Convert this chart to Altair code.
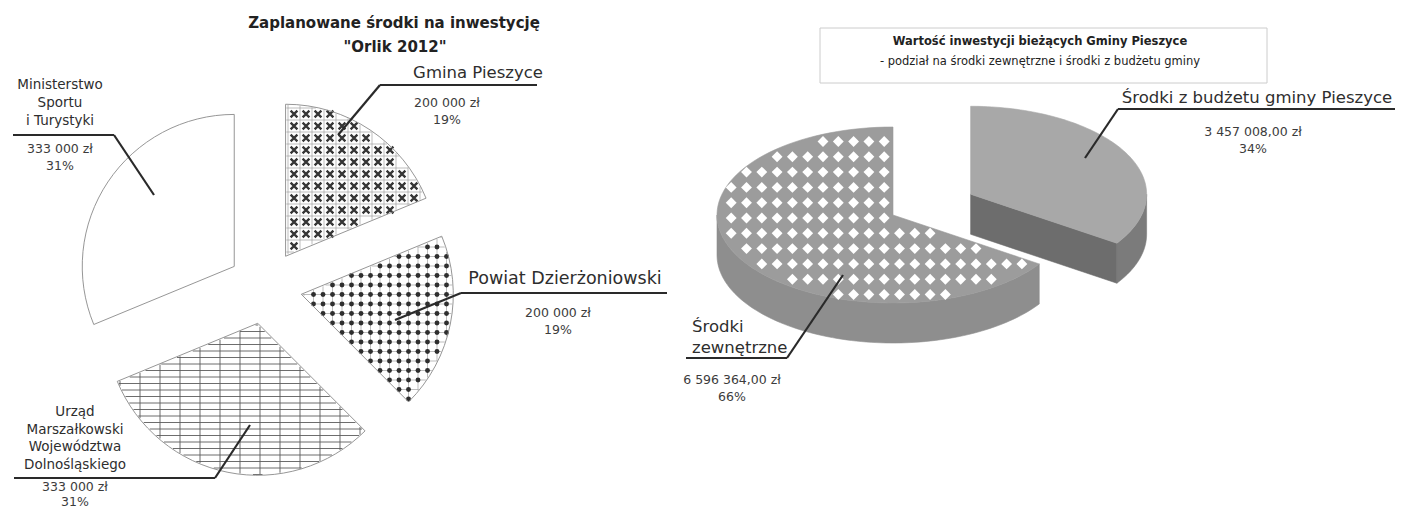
import math
import numpy as np
import pandas as pd
import altair as alt

# ---------------- data ----------------
orlik_names = ["Gmina Pieszyce", "Powiat Dzierżoniowski",
               "Urząd\nMarszałkowski\nWojewództwa\nDolnośląskiego",
               "Ministerstwo\nSportu\ni Turystyki"]
orlik_values = [200000, 200000, 333000, 333000]
orlik_value_labels = ["200 000 zł", "200 000 zł", "333 000 zł", "333 000 zł"]
orlik_pct_labels = ["19%", "19%", "31%", "31%"]
orlik_title = ["Zaplanowane środki na inwestycję", "\"Orlik 2012\""]

inv_names = ["Środki z budżetu gminy Pieszyce", "Środki\nzewnętrzne"]
inv_values = [3457008.00, 6596364.00]
inv_value_labels = ["3 457 008,00 zł", "6 596 364,00 zł"]
inv_pct_labels = ["34%", "66%"]
inv_title = ["Wartość inwestycji bieżących Gminy Pieszyce",
             "- podział na środki zewnętrzne i środki z budżetu gminy"]

# ---------------- layout (image pixel space) ----------------
TAU = 2 * math.pi
X0, X1, Y0, Y1 = 8, 1403, 8, 508
XS = alt.Scale(domain=[X0, X1], nice=False, zero=False)
YS = alt.Scale(domain=[Y0, Y1], nice=False, zero=False, reverse=True)
FONT = "DejaVu Sans"

L_C, L_R, L_EXP = (265, 287), 152, 37
R_M, R_RX, R_RY, R_D, R_EXP = (893, 215), 176, 88, 40, 0.5

# label layout: name pos, name size, line height, underline (x1, x2, y), leader end, value pos, align
left_lab = [
    dict(name=(478, 73), fs=16.5, lh=18, ul=(380, 537, 85), le=(338, 135), val=(447, 103), dv=17, align="center"),
    dict(name=(565, 279), fs=17.5, lh=18, ul=(461, 667, 293), le=(395, 320), val=(558, 313), dv=17, align="center"),
    dict(name=(75, 412), fs=13.5, lh=17.7, ul=(14, 215, 478), le=(250, 425), val=(75, 487), dv=15, align="center", lead_from="right"),
    dict(name=(60, 85), fs=13.5, lh=18, ul=(13, 114, 135), le=(154, 195), val=(60, 149), dv=17, align="center", lead_from="right"),
]
for d in left_lab:
    d.setdefault("lead_from", "left")
right_lab = [
    dict(name=(1257, 98), fs=16.5, lh=21, ul=(1118, 1395, 109), le=(1085, 158), val=(1253, 132), dv=17, align="center", lead_from="left"),
    dict(name=(692, 327), fs=16.5, lh=21, ul=(686, 787, 358), le=(843, 275), val=(732, 380), dv=17, align="left", lead_from="right"),
]


def angles(values):
    tot = float(sum(values))
    out, a = [], 0.0
    for v in values:
        a1 = a + TAU * v / tot
        out.append((a, a1))
        a = a1
    return out


def inside(px, py, cx, cy, rx, ry, a0, a1, m=0.0):
    dx, dy = px - cx, py - cy
    if (dx / (rx - m)) ** 2 + (dy / (ry - m)) ** 2 > 1:
        return False
    ang = math.atan2(dx / rx, -dy / ry) % TAU
    if ang < a0 or ang > a1:
        return False
    for a in (a0, a1):
        ex, ey = rx * math.sin(a), -ry * math.cos(a)
        n = math.hypot(ex, ey)
        ex, ey = ex / n, ey / n
        proj = dx * ex + dy * ey
        d = abs(dx * ey - dy * ex) if proj > 0 else math.hypot(dx, dy)
        if d < m:
            return False
    return True


def clip_lines(sl, spacing, horizontal, m=0.7, offset=0.0):
    cx, cy, r, a0, a1 = sl
    segs = []
    if horizontal:
        start = math.floor((cy - r) / spacing) * spacing + offset
        for y in np.arange(start, cy + r, spacing):
            pts = [x for x in np.arange(cx - r, cx + r, 0.25) if inside(x, y, cx, cy, r, r, a0, a1, m)]
            if len(pts) > 1:
                segs.append((pts[0], y, pts[-1], y))
    else:
        start = math.floor((cx - r) / spacing) * spacing + offset
        for x in np.arange(start, cx + r, spacing):
            pts = [y for y in np.arange(cy - r, cy + r, 0.25) if inside(x, y, cx, cy, r, r, a0, a1, m)]
            if len(pts) > 1:
                segs.append((x, pts[0], x, pts[-1]))
    return segs


def lattice(cx, cy, rx, ry, a0, a1, sx, sy, ox, oy, m):
    pts = []
    xs0 = ox + math.floor((cx - rx - ox) / sx) * sx
    ys0 = oy + math.floor((cy - ry - oy) / sy) * sy
    for x in np.arange(xs0, cx + rx + 1, sx):
        for y in np.arange(ys0, cy + ry + 1, sy):
            if inside(x, y, cx, cy, rx, ry, a0, a1, m):
                pts.append((x, y))
    return pts


# ---------------- left pie (exploded) ----------------
arc_rows, slices = [], []
for i, (a0, a1) in enumerate(angles(orlik_values)):
    mid = (a0 + a1) / 2
    cx = L_C[0] + L_EXP * math.sin(mid)
    cy = L_C[1] - L_EXP * math.cos(mid)
    slices.append((cx, cy, L_R, a0, a1))
    arc_rows.append(dict(name=orlik_names[i], value=orlik_values[i], cx=cx, cy=cy, a0=a0, a1=a1))
arc_df = pd.DataFrame(arc_rows)

# pattern: Gmina -> grid + crosses, Powiat -> grid + dots, Urząd -> line grid
thin_segs = clip_lines(slices[0], 12, True) + clip_lines(slices[0], 12, False) \
    + clip_lines(slices[1], 9.5, True) + clip_lines(slices[1], 9.5, False)
grid_segs = clip_lines(slices[2], 6.5, True) + clip_lines(slices[2], 20, False)
g = slices[0]
cross_pts = lattice(g[0], g[1], g[2], g[2], g[3], g[4], 12, 12, 6, 6, 2.5)
p = slices[1]
dot_pts = lattice(p[0], p[1], p[2], p[2], p[3], p[4], 9.5, 9.5, 0, 0, 1.5)

thin_df = pd.DataFrame(thin_segs, columns=["x", "y", "x2", "y2"])
grid_df = pd.DataFrame(grid_segs, columns=["x", "y", "x2", "y2"])
cross_df = pd.DataFrame(cross_pts, columns=["x", "y"])
dot_df = pd.DataFrame(dot_pts, columns=["x", "y"])

# ---------------- right pie (3D, elliptical) ----------------
(g0, g1), (p0, p1) = angles(inv_values)
gm = (g0 + g1) / 2
G = (R_M[0] + R_EXP * R_RX * math.sin(gm), R_M[1] - R_EXP * R_RY * math.cos(gm))


def ept(c, a, dy=0.0):
    return (c[0] + R_RX * math.sin(a), c[1] - R_RY * math.cos(a) + dy)


def earc(c, a0, a1, dy=0.0, n=90):
    return [ept(c, a0 + (a1 - a0) * k / n, dy) for k in range(n + 1)]


polys = {
    "pat_side": earc(R_M, p0, 1.5 * math.pi) + earc(R_M, 1.5 * math.pi, p0, R_D),
    "pat_top": [R_M] + earc(R_M, p0, p1) + [R_M],
    "gray_face": [G, ept(G, g1), ept(G, g1, R_D), (G[0], G[1] + R_D), G],
    "gray_outer": earc(G, 0.5 * math.pi, g1) + earc(G, g1, 0.5 * math.pi, R_D),
    "gray_top": [G] + earc(G, g0, g1) + [G],
}
poly_rows = []
for k, pts in polys.items():
    pts = list(pts) + [pts[0]]
    for i, (x, y) in enumerate(pts):
        poly_rows.append(dict(poly=k, i=i, x=x, y=y))
poly_df = pd.DataFrame(poly_rows)
diamond_pts = lattice(R_M[0], R_M[1], R_RX, R_RY, p0, p1, 15.3, 15.3, 746.5, 141.5, 3.5)
diamond_df = pd.DataFrame(diamond_pts, columns=["x", "y"])

# ---------------- labels ----------------
text_rows, seg_rows = [], []


def add_labels(names, vlabels, plabels, lay):
    for i, d in enumerate(lay):
        for j, line in enumerate(names[i].split("\n")):
            text_rows.append(dict(t=line, x=d["name"][0], y=d["name"][1] + j * d["lh"], fs=d["fs"],
                                  al=d["align"], col="#2e2e2e"))
        text_rows.append(dict(t=vlabels[i], x=d["val"][0], y=d["val"][1], fs=12.5, al="center", col="#3c3c3c"))
        text_rows.append(dict(t=plabels[i], x=d["val"][0], y=d["val"][1] + d["dv"], fs=12.5, al="center", col="#3c3c3c"))
        x1, x2, yy = d["ul"]
        seg_rows.append(dict(x=x1, y=yy, x2=x2, y2=yy))
        sx = x1 if d["lead_from"] == "left" else x2
        seg_rows.append(dict(x=sx, y=yy, x2=d["le"][0], y2=d["le"][1]))


add_labels(orlik_names, orlik_value_labels, orlik_pct_labels, left_lab)
add_labels(inv_names, inv_value_labels, inv_pct_labels, right_lab)
text_df = pd.DataFrame(text_rows)
seg_df = pd.DataFrame(seg_rows)

title_df = pd.DataFrame([
    dict(t=orlik_title[0], x=394, y=23, fs=15, w="bold"),
    dict(t=orlik_title[1], x=395, y=47, fs=15, w="bold"),
    dict(t=inv_title[0], x=1040, y=42, fs=11.5, w="bold"),
    dict(t=inv_title[1], x=1040, y=62, fs=11.5, w="normal"),
])
box_df = pd.DataFrame([dict(x=820, x2=1267, y=28, y2=83)])


def X(f):
    return alt.X(f, type="quantitative", scale=XS, axis=None)


def Y(f):
    return alt.Y(f, type="quantitative", scale=YS, axis=None)


layers = []
# left pie fills
layers.append(alt.Chart(arc_df).mark_arc(radius=L_R, fill="white", stroke=None).encode(
    x=X("cx"), y=Y("cy"), theta=alt.Theta("a0:Q", scale=None), theta2=alt.Theta2("a1")))
layers.append(alt.Chart(thin_df).mark_rule(color="#a0a0a0", strokeWidth=0.7).encode(
    x=X("x"), y=Y("y"), x2="x2", y2="y2"))
layers.append(alt.Chart(grid_df).mark_rule(color="#5c5c5c", strokeWidth=0.9).encode(
    x=X("x"), y=Y("y"), x2="x2", y2="y2"))
layers.append(alt.Chart(cross_df).mark_point(shape="M-1,-1L1,1M1,-1L-1,1", size=46, filled=False,
                                              color="#363636", strokeWidth=2.3, opacity=1).encode(
    x=X("x"), y=Y("y")))
layers.append(alt.Chart(dot_df).mark_circle(size=24, color="#2e2e2e", opacity=1).encode(
    x=X("x"), y=Y("y")))
layers.append(alt.Chart(arc_df).mark_arc(radius=L_R, fillOpacity=0, stroke="#8a8a8a", strokeWidth=0.9).encode(
    x=X("cx"), y=Y("cy"), theta=alt.Theta("a0:Q", scale=None), theta2=alt.Theta2("a1")))

# right 3D pie
poly_style = {
    "pat_side": "#8e8e8e",
    "pat_top": "#9c9c9c",
    "gray_face": "#6d6d6d",
    "gray_outer": "#7b7b7b",
    "gray_top": "#a8a8a8",
}
for k in ["pat_side", "pat_top"]:
    layers.append(alt.Chart(poly_df).transform_filter(alt.datum.poly == k).mark_line(
        fill=poly_style[k], stroke=poly_style[k], strokeWidth=0.6, interpolate="linear").encode(
        x=X("x"), y=Y("y"), order="i:Q", detail="poly:N"))
layers.append(alt.Chart(diamond_df).mark_point(shape="diamond", size=118, filled=True, color="white", opacity=1).encode(
    x=X("x"), y=Y("y")))
for k in ["gray_face", "gray_outer", "gray_top"]:
    layers.append(alt.Chart(poly_df).transform_filter(alt.datum.poly == k).mark_line(
        fill=poly_style[k], stroke=poly_style[k], strokeWidth=0.6, interpolate="linear").encode(
        x=X("x"), y=Y("y"), order="i:Q", detail="poly:N"))

# title box
layers.append(alt.Chart(box_df).mark_rect(fill="white", stroke="#cccccc", strokeWidth=1).encode(
    x=X("x"), x2="x2", y=Y("y"), y2="y2"))

# leaders and underlines
layers.append(alt.Chart(seg_df).mark_rule(color="#2a2a2a", strokeWidth=2.2).encode(
    x=X("x"), y=Y("y"), x2="x2", y2="y2"))

# texts
for al in ["center", "left"]:
    layers.append(alt.Chart(text_df).transform_filter(alt.datum.al == al).mark_text(
        font=FONT, align=al, baseline="middle").encode(
        x=X("x"), y=Y("y"), text="t:N", size=alt.Size("fs:Q", scale=None),
        color=alt.Color("col:N", scale=None)))
for w in ["bold", "normal"]:
    layers.append(alt.Chart(title_df).transform_filter(alt.datum.w == w).mark_text(
        font=FONT, fontWeight=w, align="center", baseline="middle", color="#222222").encode(
        x=X("x"), y=Y("y"), text="t:N", size=alt.Size("fs:Q", scale=None)))

chart = alt.layer(*layers).properties(
    width=X1 - X0, height=Y1 - Y0, padding=0,
    autosize=alt.AutoSizeParams(type="none"), background="white"
).configure_view(stroke=None)

chart.save("out.html", embed_options={"renderer": "svg", "actions": False})
